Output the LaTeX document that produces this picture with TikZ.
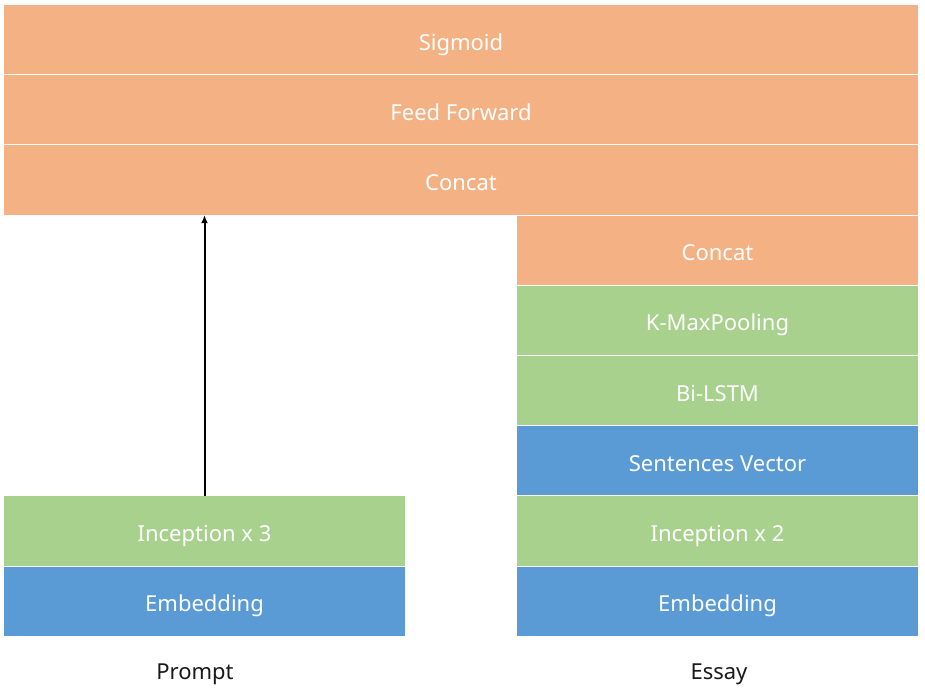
\documentclass[tikz,border=0pt]{standalone}
\usepackage{fontspec}
\setmainfont{Noto Sans}
\usetikzlibrary{arrows.meta}
\definecolor{orangebox}{HTML}{F4B183}
\definecolor{greenbox}{HTML}{A9D18E}
\definecolor{bluebox}{HTML}{5B9BD5}
\begin{document}
\begin{tikzpicture}[x=1pt,y=-1pt,
  layer/.style={draw=white,line width=1pt,outer sep=0pt,inner sep=0pt,
    text=white,font=\fontsize{22}{26}\selectfont,anchor=north west,
    text height=21pt,text depth=0pt},
  wide/.style={layer,minimum width=915pt,minimum height=70.2pt},
  half/.style={layer,minimum width=402pt,minimum height=70.2pt},
  lbl/.style={font=\fontsize{22}{26}\selectfont,text=black!90,
    text height=21pt,text depth=0pt,inner sep=0pt}]
\useasboundingbox (0,0) rectangle (925,694);
\node[wide,fill=orangebox] (sig) at (3.5,4.5) {Sigmoid};
\node[wide,fill=orangebox] (ff) at (3.5,74.7) {Feed Forward};
\node[wide,fill=orangebox] (cat1) at (3.5,144.9) {Concat};
\node[half,fill=orangebox] (cat2) at (516.5,215.1) {Concat};
\node[half,fill=greenbox] (kmax) at (516.5,285.3) {K-MaxPooling};
\node[half,fill=greenbox] (lstm) at (516.5,355.5) {Bi-LSTM};
\node[half,fill=bluebox] (sent) at (516.5,425.7) {Sentences Vector};
\node[half,fill=greenbox] (inc2) at (516.5,495.9) {Inception x 2};
\node[half,fill=bluebox] (emb2) at (516.5,566.1) {Embedding};
\node[half,fill=greenbox] (inc3) at (3.5,495.9) {Inception x 3};
\node[half,fill=bluebox] (emb1) at (3.5,566.1) {Embedding};
\node[lbl] (prompt) at (195,669) {Prompt};
\node[lbl] (essay) at (719,669) {Essay};
\draw[line width=2pt,-{Latex[length=8pt,width=7pt]}] ([yshift=-0.5pt]inc3.north) -- (inc3.north |- cat1.south);
\end{tikzpicture}
\end{document}
